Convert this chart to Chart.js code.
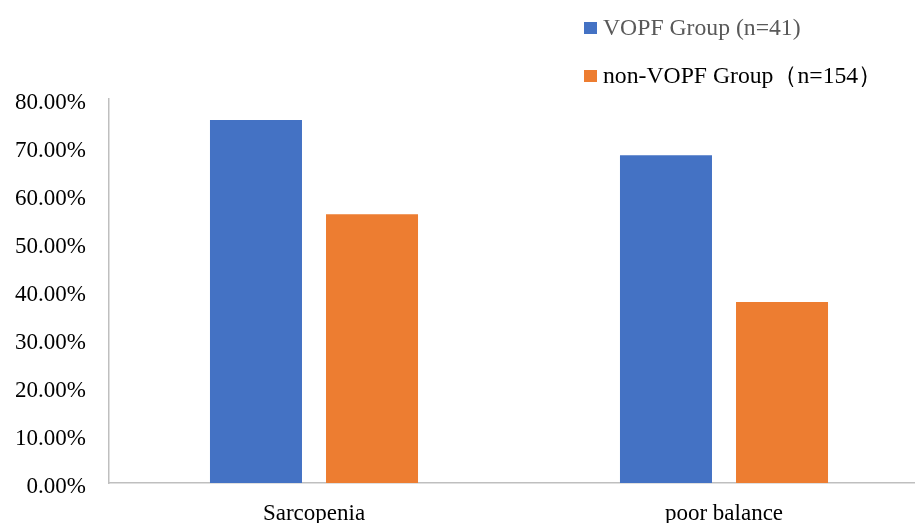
<!DOCTYPE html>
<html>
<head>
<meta charset="utf-8">
<script src="https://cdn.jsdelivr.net/npm/chart.js@4/dist/chart.umd.min.js"></script>
<style>
  html, body { margin: 0; padding: 0; background: #fff; overflow: hidden; }
  #wrap { position: relative; width: 915px; height: 523px; overflow: hidden; }
  #c { position: absolute; left: 0; top: 0; }
  .lg { position: absolute; font-family: "Liberation Serif", "Times New Roman", serif; font-size: 23.7px; line-height: 24px; white-space: nowrap; }
  .sw { position: absolute; width: 13px; height: 12px; }
</style>
</head>
<body>
<div id="wrap">
  <canvas id="c" width="930" height="523"></canvas>
  <div id="legend"></div>
</div>
<script>
(function () {
  const categories = ['Sarcopenia', 'poor balance'];
  const seriesNames = ['VOPF Group (n=41)', 'non-VOPF Group（n=154）'];
  const vopfValues = [75.6, 68.3];
  const nonVopfValues = [56.0, 37.7];
  const yTicks = [0, 10, 20, 30, 40, 50, 60, 70, 80];

  const colors = ['#4472C4', '#ED7D31'];
  const legendText = ['#595959', '#000000'];
  const font = '"Liberation Serif", "Times New Roman", serif';

  // legend drawn as html, top-right like the original
  const lg = document.getElementById('legend');
  seriesNames.forEach((name, i) => {
    const top = 22 + i * 48;
    lg.insertAdjacentHTML('beforeend',
      `<div class="sw" style="left:584px;top:${top}px;background:${colors[i]}"></div>` +
      `<div class="lg" style="left:603px;top:${top - 7}px;color:${legendText[i]}">${name}</div>`);
  });

  new Chart(document.getElementById('c'), {
    type: 'bar',
    data: {
      labels: categories,
      datasets: [
        { label: seriesNames[0], data: vopfValues, backgroundColor: colors[0], borderWidth: 0 },
        { label: seriesNames[1], data: nonVopfValues, backgroundColor: colors[1], borderWidth: 0 }
      ]
    },
    options: {
      responsive: false,
      animation: false,
      devicePixelRatio: 1,
      barPercentage: 0.793,
      categoryPercentage: 0.566,
      layout: { padding: { top: 99, left: 0, right: 1, bottom: 0 } },
      plugins: { legend: { display: false }, tooltip: { enabled: false } },
      scales: {
        x: {
          grid: { display: false, drawTicks: false },
          border: { display: true, color: '#BFBFBF', width: 1.5 },
          ticks: { color: '#000', padding: 17, font: { family: font, size: 23 } },
          afterFit: (s) => { s.height = 40; }
        },
        y: {
          min: 0,
          max: 80,
          grid: { display: false, drawTicks: false },
          border: { display: true, color: '#BFBFBF', width: 1.5 },
          afterBuildTicks: (s) => { s.ticks = yTicks.map(v => ({ value: v })); },
          ticks: {
            color: '#000',
            padding: 23,
            labelOffset: 4,
            font: { family: font, size: 23 },
            callback: (v) => v.toFixed(2) + '%'
          },
          afterFit: (s) => { s.width = 109; }
        }
      }
    }
  });
})();
</script>
</body>
</html>
